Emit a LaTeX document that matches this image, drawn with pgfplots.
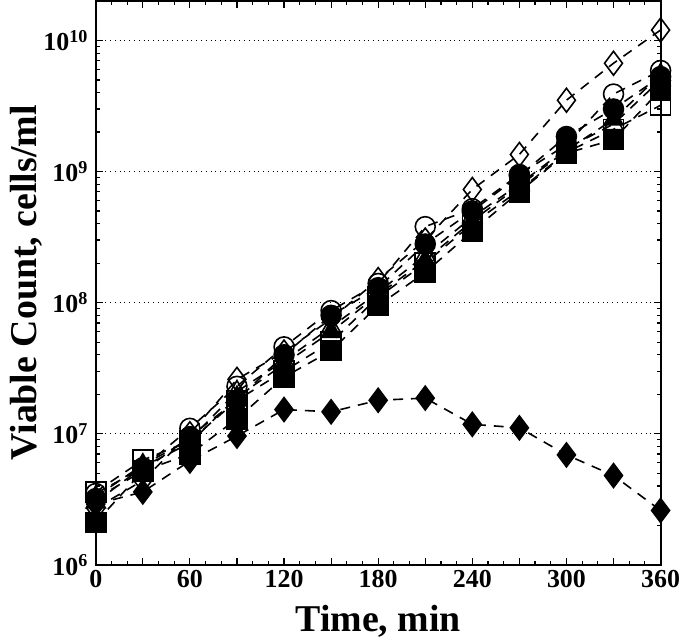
\documentclass[border=0pt]{standalone}
\usepackage{fontspec}
\setmainfont{Liberation Serif}
\usepackage{pgfplots}
\pgfplotsset{compat=1.18}

% viable counts, cells/ml, sampled every 30 min
\pgfplotstableread{
t   od      oc      fc      ot      ft      os      fs      fd
0   2.7e6   3.5e6   3.2e6   3.3e6   3.0e6   3.6e6   2.1e6   2.9e6
30  4.4e6   5.5e6   5.2e6   5.8e6   5.6e6   6.3e6   5.2e6   3.6e6
60  1.0e7   1.1e7   9.5e6   9.0e6   8.5e6   8.8e6   7.0e6   6.2e6
90  2.6e7   2.3e7   1.8e7   2.1e7   1.9e7   1.8e7   1.3e7   9.6e6
120 4.2e7   4.6e7   4.0e7   3.6e7   3.4e7   3.0e7   2.7e7   1.53e7
150 7.5e7   8.7e7   8.0e7   6.5e7   6.0e7   5.0e7   4.3e7   1.47e7
180 1.5e8   1.4e8   1.3e8   1.2e8   1.15e8  1.1e8   9.5e7   1.8e7
210 3.0e8   3.8e8   2.8e8   2.3e8   2.1e8   2.0e8   1.7e8   1.87e7
240 7.3e8   5.2e8   5.0e8   4.5e8   4.2e8   4.0e8   3.5e8   1.18e7
270 1.35e9  9.5e8   9.3e8   8.0e8   7.8e8   7.2e8   7.0e8   1.11e7
300 3.5e9   1.6e9   1.85e9  1.5e9   1.45e9  1.4e9   1.38e9  6.9e6
330 6.7e9   3.9e9   3.0e9   2.3e9   2.5e9   2.1e9   1.75e9  4.8e6
360 1.2e10  5.9e9   5.3e9   5.0e9   5.5e9   3.2e9   4.2e9   2.6e6
}\counts

\begin{document}
\begin{tikzpicture}
\begin{axis}[
  scale only axis, width=283.5pt, height=283pt,
  ymode=log, xmin=0, xmax=360, ymin=1e6, ymax=2e10,
  xtick={0,30,...,360},
  xticklabels={0,,60,,120,,180,,240,,300,,360},
  minor x tick num=2,
  ytick={1e6,1e7,1e8,1e9,1e10},
  yticklabels={10\textsuperscript{6},10\textsuperscript{7},10\textsuperscript{8},10\textsuperscript{9},10\textsuperscript{10}},
  tick align=inside, major tick length=3.5pt, minor tick length=2pt,
  axis line style={line width=1pt}, tick style={black, line width=0.6pt},
  ymajorgrids, major grid style={black, dotted, line width=0.5pt},
  tick label style={font=\bfseries\fontsize{13}{13}\selectfont, inner sep=0pt},
  xticklabel style={yshift=-2.5pt},
  yticklabel style={xshift=-3.5pt},
  label style={font=\bfseries\fontsize{19}{19}\selectfont, inner sep=0pt},
  xlabel style={at={(axis description cs:0.5,0)}, anchor=center, yshift=-28.5pt, inner ysep=1.5pt},
  ylabel style={at={(axis description cs:0,0.5)}, anchor=center, yshift=35pt, inner ysep=5pt},
  xlabel={Time, min}, ylabel={Viable Count, cells/ml},
  every axis plot/.append style={black, line width=0.8pt, dash pattern=on 5pt off 4pt},
  mk/.style={mark options={solid, line width=0.8pt}},
  clip=false,
]
\addplot[mk, mark=diamond, mark size=6pt] table[x=t, y=od] {\counts};
\addplot[mk, mark=o, mark size=5pt] table[x=t, y=oc] {\counts};
\addplot[mk, mark=triangle, mark size=5.5pt] table[x=t, y=ot] {\counts};
\addplot[mk, mark=square, mark size=5pt] table[x=t, y=os] {\counts};
\addplot[mk, mark=triangle*, mark size=5.5pt] table[x=t, y=ft] {\counts};
\addplot[mk, mark=*, mark size=5pt] table[x=t, y=fc] {\counts};
\addplot[mk, mark=square*, mark size=5pt] table[x=t, y=fs] {\counts};
\addplot[mk, mark=diamond*, mark size=6pt] table[x=t, y=fd] {\counts};
\end{axis}
\end{tikzpicture}
\end{document}
